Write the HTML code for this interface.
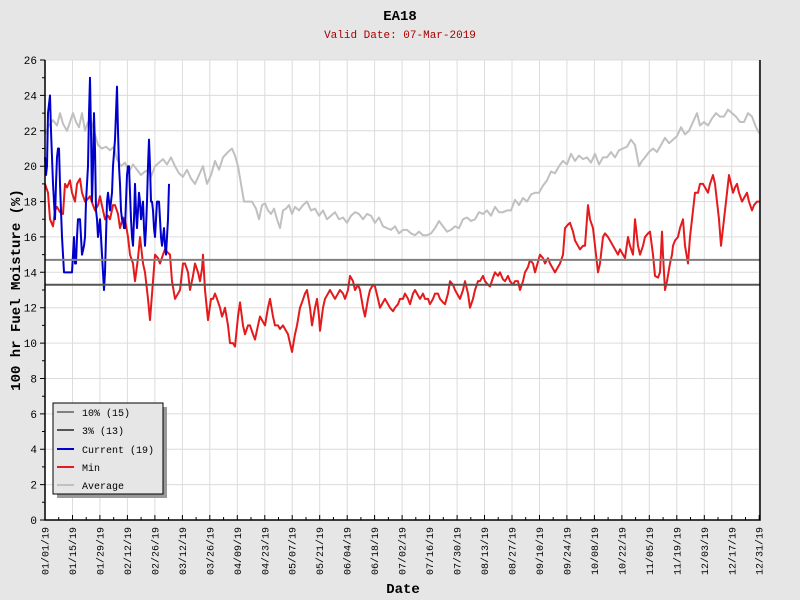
<!DOCTYPE html>
<html><head><meta charset="utf-8"><style>html,body{margin:0;padding:0;background:#e6e6e6}svg{display:block}</style></head>
<body>
<svg width="800" height="600" xmlns="http://www.w3.org/2000/svg" font-family="'Liberation Mono', monospace">
<rect width="800" height="600" fill="#e6e6e6"/>
<text x="400" y="20" text-anchor="middle" font-size="14" font-weight="bold">EA18</text>
<text x="400" y="38" text-anchor="middle" font-size="11" fill="#aa0000">Valid Date: 07-Mar-2019</text>
<rect x="45" y="60" width="715" height="460" fill="#fff"/>
<g stroke="#dcdcdc" stroke-width="1">
<path d="M45 484.6H760M45 449.2H760M45 413.9H760M45 378.5H760M45 343.1H760M45 307.7H760M45 272.3H760M45 236.9H760M45 201.6H760M45 166.2H760M45 130.8H760M45 95.4H760M45 60H760"/>
<path d="M72.5 60V520M99.9 60V520M127.4 60V520M154.9 60V520M182.4 60V520M209.8 60V520M237.3 60V520M264.8 60V520M292.2 60V520M319.7 60V520M347.2 60V520M374.6 60V520M402.1 60V520M429.6 60V520M457.1 60V520M484.5 60V520M512 60V520M539.5 60V520M566.9 60V520M594.4 60V520M621.9 60V520M649.3 60V520M676.8 60V520M704.3 60V520M731.8 60V520M759.2 60V520"/>
</g>
<g transform="translate(45,520) scale(1,-17.69)" fill="none" stroke-linejoin="round">
<polyline vector-effect="non-scaling-stroke" stroke="#c0c0c0" stroke-width="2" points="0,21.8 4,22.3 8,22.6 12,22.3 15,23 18,22.4 22,22 25,22.5 28,23 31,22.5 34,22.2 37,23 40,22 43,22.5 46,22.6 50,21.8 53,21.2 57,21 61,21.1 65,20.9 69,21.1 72,20.4 76,20 80,20.2 84,19.7 88,20.1 92,19.8 96,19.5 100,19.7 104,19.8 106,19.4 110,20 114,20.2 118,20.4 122,20.1 126,20.5 130,20 134,19.6 138,19.4 142,19.8 146,19.3 150,19 154,19.5 158,20 162,19 166,19.5 170,20.3 174,19.8 178,20.5 183,20.8 187,21 190,20.6 193,20 196,19 199,18 203,18 207,18 211,17.6 214,17 217,17.8 220,17.9 223,17.5 226,17.3 229,17.6 232,17 235,16.5 238,17.5 241,17.6 244,17.8 247,17.3 250,17.7 254,17.5 258,17.8 262,18 266,17.5 270,17.6 274,17.2 278,17.5 282,17 286,17.2 290,17.4 294,17 298,17.1 302,16.8 306,17.2 310,17.4 314,17.3 318,17 322,17.3 326,17.2 330,16.8 334,17.1 338,16.6 342,16.5 346,16.4 350,16.6 354,16.2 358,16.4 362,16.4 366,16.2 370,16.1 374,16.3 378,16.1 382,16.1 386,16.2 390,16.5 394,16.9 398,16.6 402,16.3 406,16.4 410,16.6 414,16.5 418,17 422,17.1 426,16.9 430,17 434,17.4 438,17.3 442,17.5 446,17.2 450,17.7 454,17.4 458,17.4 462,17.5 466,17.5 470,18.1 474,17.8 478,18.2 482,18 486,18.4 490,18.5 494,18.5 498,18.9 502,19.2 506,19.7 510,19.6 514,20 518,20.3 522,20.1 526,20.7 530,20.3 534,20.6 538,20.4 542,20.5 546,20.2 550,20.7 554,20.1 558,20.5 562,20.5 566,20.8 570,20.5 574,20.9 578,21 582,21.1 586,21.5 590,21.2 594,20 597,20.3 600,20.5 604,20.8 608,21 612,20.8 616,21.2 620,21.6 624,21.3 628,21.5 632,21.7 636,22.2 640,21.8 644,22 648,22.5 652,23 655,22.3 659,22.5 663,22.3 667,22.7 671,23 675,22.8 679,22.8 683,23.2 687,23 691,22.8 695,22.5 699,22.5 703,23 707,22.8 711,22.2 715,21.8"/>
<polyline vector-effect="non-scaling-stroke" stroke="#e41a1c" stroke-width="2" points="0,19 3,18.5 5,17 8,16.6 10,17.5 12,17.7 15,17.4 18,17.3 20,19 22,18.8 25,19.2 27,18.5 30,18 32,19 35,19.3 37,18.5 40,18 42,18.1 45,18.3 48,17.8 50,17.5 53,17.8 55,18.3 58,17.5 60,17 63,17.2 65,17 68,17.8 70,17.8 73,17.3 75,16.5 78,17.1 80,17 83,16 85,15 88,14.5 90,13.5 93,14.8 95,16 98,14.5 100,14 103,12.5 105,11.3 108,13.5 110,15 113,14.8 115,14.5 118,15 120,15.3 123,15.1 125,15 127,13.5 130,12.5 133,12.8 135,13 138,14.5 140,14.5 143,14 145,13 148,13.8 150,14.5 153,14 155,13.5 157,14.2 158,15 160,13 163,11.3 166,12.5 168,12.5 170,12.8 172,12.5 175,12 177,11.5 179,11.8 180,12 183,11 185,10 188,10 190,9.8 193,11.5 195,12.3 198,11 200,10.5 203,11 205,11 208,10.5 210,10.2 213,11 215,11.5 218,11.2 220,11 223,12 225,12.5 228,11.5 230,11 233,11 235,10.8 238,11 240,10.8 243,10.5 245,10 247,9.5 250,10.5 252,11 255,12 257,12.3 260,12.8 262,13 265,12 267,11 270,12 272,12.5 274,11.5 275,10.7 278,12 280,12.5 283,12.8 285,13 288,12.7 290,12.5 293,12.8 295,13 298,12.8 300,12.5 303,13 305,13.8 308,13.5 310,13 313,13.3 315,13 318,12 320,11.5 323,12.5 325,13 328,13.3 330,13.2 333,12.5 335,12 338,12.3 340,12.5 343,12.2 345,12 348,11.8 350,12 353,12.2 355,12.5 358,12.5 360,12.8 363,12.5 365,12.2 368,12.8 370,13 373,12.7 375,12.5 378,12.8 380,12.5 383,12.5 385,12.2 388,12.5 390,12.8 393,12.8 395,12.5 398,12.3 400,12.2 403,12.8 405,13.5 408,13.3 410,13 413,12.7 415,12.5 418,13 420,13.5 423,12.8 425,12 428,12.5 430,13 433,13.5 435,13.5 438,13.8 440,13.5 443,13.3 445,13.2 448,13.7 450,14 453,13.8 455,14 458,13.6 460,13.5 463,13.8 465,13.5 468,13.3 470,13.5 473,13.5 475,13 478,13.5 480,14 483,14.3 485,14.7 488,14.5 490,14 493,14.6 495,15 498,14.8 500,14.5 503,14.8 505,14.5 508,14.2 510,14 513,14.3 515,14.5 518,15 520,16.5 523,16.7 525,16.8 528,16.3 530,15.8 533,15.5 535,15.3 538,15.5 540,15.5 543,17.8 545,17 548,16.5 550,15.5 553,14 555,14.5 558,16 560,16.2 563,16 565,15.8 568,15.5 570,15.3 573,15 575,15.3 578,15 580,14.8 583,16 585,15.5 588,15 590,17 593,15.5 595,15 598,15.5 600,16 603,16.2 605,16.3 608,15 610,13.8 613,13.7 615,14 617,16.3 618,15 620,13 622,13.5 625,14.5 627,15 628,15.5 630,15.8 633,16 635,16.5 638,17 640,15.5 643,14.5 645,16 648,17.5 650,18.5 653,18.5 655,19 658,19 660,18.8 663,18.5 665,19 668,19.5 670,19 672,18 674,17 676,15.5 678,16.5 680,17.5 682,18.5 684,19.5 686,19 688,18.5 690,18.8 692,19 694,18.5 697,18 699,18.2 702,18.5 704,18 707,17.5 709,17.8 712,18 715,18"/>
<polyline vector-effect="non-scaling-stroke" stroke="#0000cc" stroke-width="2" points="0,20.5 1,19.5 2,20 3,23 5,24 6,22 8,19 10,17 11,19 12,20.5 13,21 14,21 15,19 17,16 18,15 19,14 22,14 25,14 27,14 28,15 29,16 30,14.5 31,14.5 32,16 33,17 34,17 35,17 36,16 37,15 39,15.5 40,16 41,18 42,19 43,20 44,23 45,25 46,22 47,18 48,20 49,23 50,21 51,17.5 52,17 53,16 54,16.5 55,17 56,16 57,15 58,14 59,13 60,14 61,16 62,18 63,18.5 64,18 65,17.5 66,18 67,18.5 68,20 70,21.5 71,23 72,24.5 73,22 74,20 75,19 76,17.5 77,17 78,17 79,16.5 80,16.5 81,18 82,19.5 83,20 84,20 85,18.5 86,17 87,16 88,15.5 89,17 90,19 91,17.5 92,16.5 93,17.5 94,18.5 95,18 96,17 97,17.5 98,18 99,16.5 100,15.5 101,16.5 102,18 103,20 104,21.5 105,20 106,18 107,18 108,17.5 109,16.5 110,16 111,17 112,18 113,18 114,18 115,17 116,16 117,15.5 118,16 119,16.5 120,15.5 121,15 122,16 123,17 124,19"/>
</g>
<line x1="45" y1="259.9" x2="760" y2="259.9" stroke="#808080" stroke-width="2"/>
<line x1="45" y1="284.7" x2="760" y2="284.7" stroke="#555" stroke-width="2"/>
<path d="M45 60V520H760V60" fill="none" stroke="#000" stroke-width="1.5"/>
<g stroke="#000" stroke-width="1">
<path d="M40 520H45M40 484.6H45M40 449.2H45M40 413.9H45M40 378.5H45M40 343.1H45M40 307.7H45M40 272.3H45M40 236.9H45M40 201.6H45M40 166.2H45M40 130.8H45M40 95.4H45M40 60H45"/>
<path d="M42 502.3H45M42 466.9H45M42 431.5H45M42 396.2H45M42 360.8H45M42 325.4H45M42 290H45M42 254.6H45M42 219.2H45M42 183.9H45M42 148.5H45M42 113.1H45M42 77.7H45"/>
<path d="M45 520v-5M72.5 520v-5M99.9 520v-5M127.4 520v-5M154.9 520v-5M182.4 520v-5M209.8 520v-5M237.3 520v-5M264.8 520v-5M292.2 520v-5M319.7 520v-5M347.2 520v-5M374.6 520v-5M402.1 520v-5M429.6 520v-5M457.1 520v-5M484.5 520v-5M512 520v-5M539.5 520v-5M566.9 520v-5M594.4 520v-5M621.9 520v-5M649.3 520v-5M676.8 520v-5M704.3 520v-5M731.8 520v-5M759.2 520v-5"/>
<path d="M58.7 520v-3M86.2 520v-3M113.7 520v-3M141.1 520v-3M168.6 520v-3M196.1 520v-3M223.6 520v-3M251 520v-3M278.5 520v-3M306 520v-3M333.4 520v-3M360.9 520v-3M388.4 520v-3M415.8 520v-3M443.3 520v-3M470.8 520v-3M498.2 520v-3M525.7 520v-3M553.2 520v-3M580.7 520v-3M608.1 520v-3M635.6 520v-3M663.1 520v-3M690.5 520v-3M718 520v-3M745.5 520v-3"/>
</g>
<g font-size="11" text-anchor="end">
<text x="37" y="524">0</text><text x="37" y="488.6">2</text><text x="37" y="453.2">4</text><text x="37" y="417.9">6</text><text x="37" y="382.5">8</text><text x="37" y="347.1">10</text><text x="37" y="311.7">12</text><text x="37" y="276.3">14</text><text x="37" y="240.9">16</text><text x="37" y="205.6">18</text><text x="37" y="170.2">20</text><text x="37" y="134.8">22</text><text x="37" y="99.4">24</text><text x="37" y="64">26</text>
</g>
<g font-size="10" text-anchor="end">
<text transform="translate(48.5,527) rotate(-90)">01/01/19</text>
<text transform="translate(76,527) rotate(-90)">01/15/19</text>
<text transform="translate(103.4,527) rotate(-90)">01/29/19</text>
<text transform="translate(130.9,527) rotate(-90)">02/12/19</text>
<text transform="translate(158.4,527) rotate(-90)">02/26/19</text>
<text transform="translate(185.9,527) rotate(-90)">03/12/19</text>
<text transform="translate(213.3,527) rotate(-90)">03/26/19</text>
<text transform="translate(240.8,527) rotate(-90)">04/09/19</text>
<text transform="translate(268.3,527) rotate(-90)">04/23/19</text>
<text transform="translate(295.7,527) rotate(-90)">05/07/19</text>
<text transform="translate(323.2,527) rotate(-90)">05/21/19</text>
<text transform="translate(350.7,527) rotate(-90)">06/04/19</text>
<text transform="translate(378.1,527) rotate(-90)">06/18/19</text>
<text transform="translate(405.6,527) rotate(-90)">07/02/19</text>
<text transform="translate(433.1,527) rotate(-90)">07/16/19</text>
<text transform="translate(460.6,527) rotate(-90)">07/30/19</text>
<text transform="translate(488,527) rotate(-90)">08/13/19</text>
<text transform="translate(515.5,527) rotate(-90)">08/27/19</text>
<text transform="translate(543,527) rotate(-90)">09/10/19</text>
<text transform="translate(570.4,527) rotate(-90)">09/24/19</text>
<text transform="translate(597.9,527) rotate(-90)">10/08/19</text>
<text transform="translate(625.4,527) rotate(-90)">10/22/19</text>
<text transform="translate(652.8,527) rotate(-90)">11/05/19</text>
<text transform="translate(680.3,527) rotate(-90)">11/19/19</text>
<text transform="translate(707.8,527) rotate(-90)">12/03/19</text>
<text transform="translate(735.3,527) rotate(-90)">12/17/19</text>
<text transform="translate(762.7,527) rotate(-90)">12/31/19</text>
</g>
<text x="403" y="593" text-anchor="middle" font-size="14" font-weight="bold">Date</text>
<text transform="translate(20,290) rotate(-90)" text-anchor="middle" font-size="14" font-weight="bold">100 hr Fuel Moisture (%)</text>
<rect x="57" y="407" width="110" height="91" fill="#999"/>
<rect x="53" y="403" width="110" height="91" fill="#e6e6e6" stroke="#000" stroke-width="1"/>
<g stroke-width="2">
<line x1="57" y1="412" x2="74" y2="412" stroke="#808080"/>
<line x1="57" y1="430" x2="74" y2="430" stroke="#555"/>
<line x1="57" y1="449" x2="74" y2="449" stroke="#0000cc"/>
<line x1="57" y1="467" x2="74" y2="467" stroke="#e41a1c"/>
<line x1="57" y1="485" x2="74" y2="485" stroke="#c0c0c0"/>
</g>
<g font-size="10">
<text x="82" y="416">10% (15)</text>
<text x="82" y="434">3% (13)</text>
<text x="82" y="453">Current (19)</text>
<text x="82" y="471">Min</text>
<text x="82" y="489">Average</text>
</g>
</svg>
</body></html>
